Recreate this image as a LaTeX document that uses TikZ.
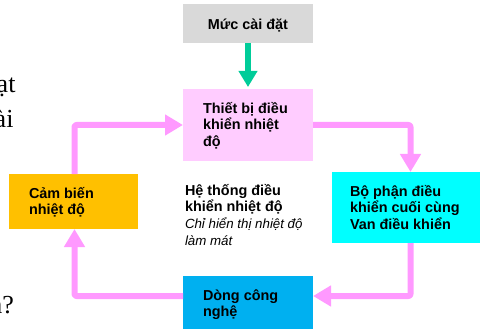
\documentclass[tikz,border=0pt]{standalone}
\usepackage{fontspec}
\setmainfont{Liberation Sans}
\newfontfamily\serifstray{Liberation Serif}
\usetikzlibrary{arrows.meta}
\definecolor{setgray}{HTML}{D9D9D9}
\definecolor{ctrlpink}{HTML}{FFCCFF}
\definecolor{arrowpink}{HTML}{FF99FF}
\definecolor{arrowgreen}{HTML}{00CC99}
\definecolor{finalcyan}{HTML}{00FFFF}
\definecolor{procblue}{HTML}{00B0F0}
\definecolor{sensororange}{HTML}{FFC000}
\tikzset{
  box/.style={draw=none, inner sep=0pt, outer sep=0pt},
  lbl/.style={inner sep=0pt, outer sep=0pt, anchor=north west, align=left,
    font=\bfseries\fontsize{14.4}{16.7}\selectfont},
  flow/.style={line width=6pt, line join=round, rounded corners=2pt,
    -{Triangle[width=20pt,length=18pt]}},
  stray/.style={inner sep=0pt, outer sep=0pt, anchor=base east,
    font=\serifstray\fontsize{26}{30}\selectfont}
}
\begin{document}
\begin{tikzpicture}[x=1pt,y=-1pt]
\useasboundingbox (0,0) rectangle (480,329);
\clip (0,0) rectangle (480,329);
% stray background text
\node[stray] (s1) at (15.5,93) {ạt};
\node[stray] (s2) at (13.5,128) {ài};
\node[stray] (s3) at (13.8,313) {n?};
% boxes
\node[box, fill=setgray, minimum width=130pt, minimum height=39pt] (set) at (248,23.5) {};
\node[box, fill=ctrlpink, minimum width=130pt, minimum height=72pt] (ctrl) at (248,125) {};
\node[box, fill=finalcyan, minimum width=157pt, minimum height=71pt] (final) at (410.5,207.5) {};
\node[box, fill=procblue, minimum width=130pt, minimum height=64pt] (proc) at (248,308) {};
\node[box, fill=sensororange, minimum width=129pt, minimum height=55pt] (sensor) at (73.5,201.5) {};
% texts
\node[inner sep=0pt, anchor=base, font=\bfseries\fontsize{14.4}{16.7}\selectfont] (settext) at (248,30) {Mức cài đặt};
\node[lbl] (ctrltext) at (203,99) {\rule{0pt}{14pt}Thiết bị điều\\khiển nhiệt\\độ};
\node[lbl] (finaltext) at (350,182) {\rule{0pt}{14pt}Bộ phận điều\\khiển cuối cùng\\Van điều khiển};
\node[lbl] (proctext) at (203,286) {\rule{0pt}{14pt}Dòng công\\nghệ};
\node[lbl] (sensortext) at (29,184) {\rule{0pt}{14pt}Cảm biến\\nhiệt độ};
\node[lbl] (systext) at (185,181) {\rule{0pt}{14pt}Hệ thống điều\\khiển nhiệt độ\\{\normalfont\itshape\fontsize{13.3}{16.7}\selectfont Chỉ hiển thị nhiệt độ}\\{\normalfont\itshape\fontsize{13.3}{16.7}\selectfont làm mát}};
% connectors
\coordinate (rx) at (410.5,0);
\coordinate (ly) at (0,296);
\coordinate (lx) at (74.5,0);
\draw[arrowgreen, line width=6pt, -{Triangle[width=18pt,length=16pt]}, shorten >=2pt] (set.south) -- (ctrl.north);
\draw[arrowpink, flow] (ctrl.east) -| (final.north);
\draw[arrowpink, flow] (final.south) |- (proc.east |- ly);
\draw[arrowpink, flow] (proc.west |- ly) -| (sensor.south -| lx);
\draw[arrowpink, flow] (sensor.north -| lx) |- (ctrl.west);
\end{tikzpicture}
\end{document}
